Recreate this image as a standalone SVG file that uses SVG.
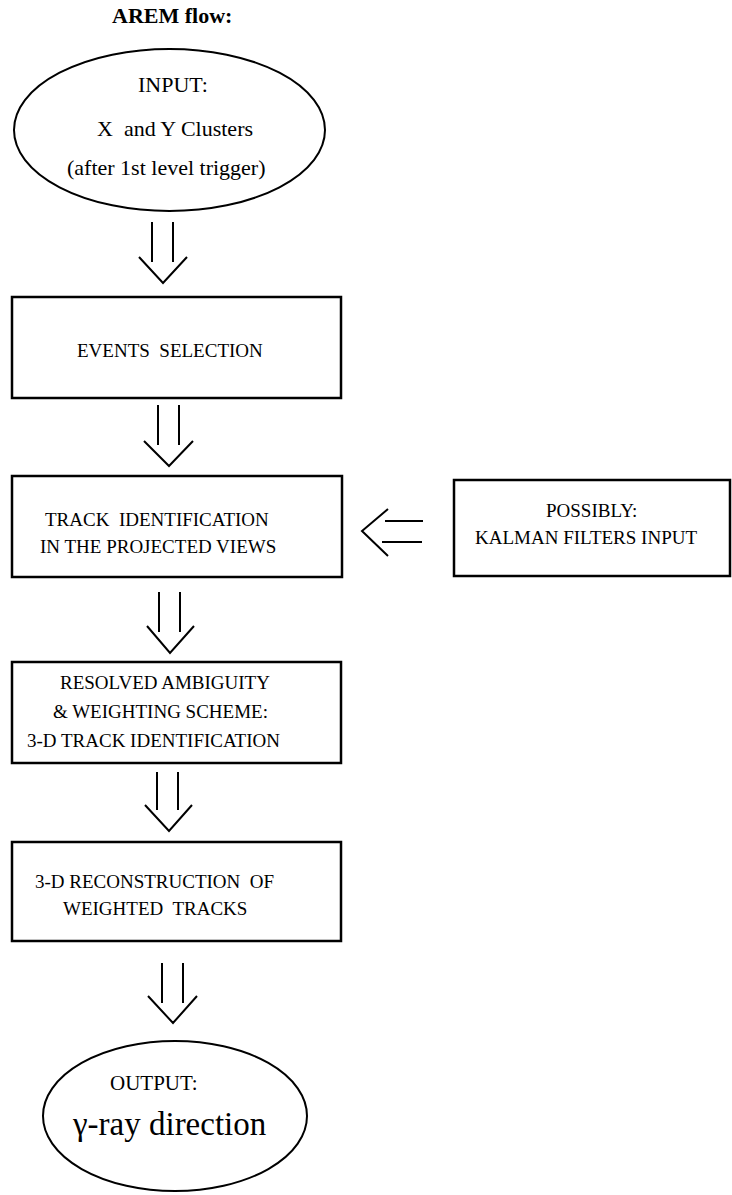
<svg xmlns="http://www.w3.org/2000/svg" width="732" height="1195" viewBox="0 0 732 1195">
<style>
text{font-family:"Liberation Serif","Times New Roman",serif;fill:#000;white-space:pre}
.t{font-size:19px}
.e{font-size:22px}
.box{fill:#fff;stroke:#000;stroke-width:2.5}
.ell{fill:#fff;stroke:#000;stroke-width:2}
.arr{fill:none;stroke:#000;stroke-width:2}
</style>
<rect width="732" height="1195" fill="#fff"/>
<text x="112" y="23" style="font-size:22px;font-weight:bold">AREM flow:</text>
<g id="input">
<ellipse class="ell" cx="169.5" cy="130" rx="155.5" ry="81"/>
<text class="e" x="138" y="92">INPUT:</text>
<text class="e" x="97" y="136">X  and Y Clusters</text>
<text class="e" x="67" y="175">(after 1st level trigger)</text>
</g>
<g id="events">
<rect class="box" x="12" y="297" width="329" height="101"/>
<text class="t" x="77" y="357">EVENTS  SELECTION</text>
</g>
<g id="track">
<rect class="box" x="12" y="476" width="330" height="101"/>
<text class="t" x="45" y="526">TRACK  IDENTIFICATION</text>
<text class="t" x="40" y="553">IN THE PROJECTED VIEWS</text>
</g>
<g id="kalman">
<rect class="box" x="454" y="480" width="276" height="96"/>
<text class="t" x="546" y="517">POSSIBLY:</text>
<text class="t" x="475" y="544">KALMAN FILTERS INPUT</text>
</g>
<g id="ambiguity">
<rect class="box" x="12" y="662" width="329" height="101"/>
<text class="t" x="60" y="689">RESOLVED AMBIGUITY</text>
<text class="t" x="53" y="718">&amp; WEIGHTING SCHEME:</text>
<text class="t" x="27" y="747">3-D TRACK IDENTIFICATION</text>
</g>
<g id="reconstruction">
<rect class="box" x="12" y="842" width="329" height="99"/>
<text class="t" x="35" y="888">3-D RECONSTRUCTION  OF</text>
<text class="t" x="63" y="915">WEIGHTED  TRACKS</text>
</g>
<g id="output">
<ellipse class="ell" cx="175" cy="1116" rx="132" ry="75"/>
<text x="110" y="1090" style="font-size:21px">OUTPUT:</text>
<text x="73" y="1135" style="font-size:33px">γ-ray direction</text>
</g>
<g id="connectors">
<path class="arr" d="M152 222V262M173 222V262M139 257L163 283L187 257"/>
<path class="arr" d="M158 405V445M179 405V445M144 441L169 466L193 441"/>
<path class="arr" d="M388 509L362 531L388 556M385 521H423M382 542H422"/>
<path class="arr" d="M159 592V632M180 592V632M147 626L170 653L194 626"/>
<path class="arr" d="M157 772V810M178 772V810M145 805L169 831L192 805"/>
<path class="arr" d="M162 963V1003M183 963V1003M148 996L173 1023L197 996"/>
</g>
</svg>
